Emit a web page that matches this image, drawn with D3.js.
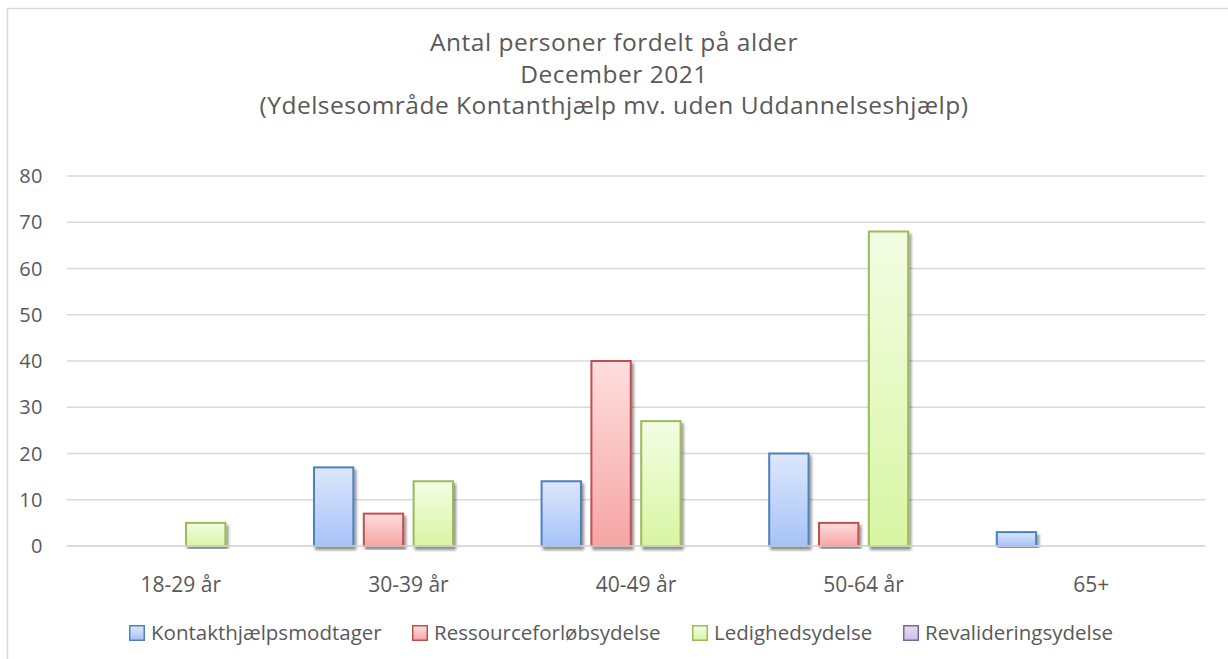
<!DOCTYPE html>
<html><head><meta charset="utf-8">
<script src="https://cdn.jsdelivr.net/npm/d3@7"></script>
<style>body{margin:0;background:#fff;} svg{display:block;font-family:"Open Sans",sans-serif;}</style>
</head><body>
<svg id="c" width="1228" height="659"></svg>
<script>
const titleLines = ["Antal personer fordelt på alder", "December 2021", "(Ydelsesområde Kontanthjælp mv. uden Uddannelseshjælp)"];
const categories = ["18-29 år", "30-39 år", "40-49 år", "50-64 år", "65+"];
const seriesNames = ["Kontakthjælpsmodtager", "Ressourceforløbsydelse", "Ledighedsydelse", "Revalideringsydelse"];
const kontakt = [0, 17, 14, 20, 3];
const ressource = [0, 7, 40, 5, 0];
const ledighed = [5, 14, 27, 68, 0];
const revalidering = [0, 0, 0, 0, 0];
const yTicks = [0, 10, 20, 30, 40, 50, 60, 70, 80];
const seriesValues = [kontakt, ressource, ledighed, revalidering];
const strokes = ["#4f81bd", "#c0504d", "#9bbb59", "#8064a2"];
const topCols = ["#dde7fc", "#ffdede", "#f4fde4", "#e6def2"];
const botCols = ["#a6c3f7", "#f6a5a5", "#d8f5a3", "#cdbfe6"];

const svg = d3.select("#c");
const defs = svg.append("defs");
seriesNames.forEach((s, i) => {
  const g = defs.append("linearGradient").attr("id", "g" + i).attr("x1", 0).attr("y1", 0).attr("x2", 0).attr("y2", 1);
  g.append("stop").attr("offset", "0%").attr("stop-color", topCols[i]);
  g.append("stop").attr("offset", "100%").attr("stop-color", botCols[i]);
});
const f = defs.append("filter").attr("id", "shadow").attr("x", "-20%").attr("y", "-5%").attr("width", "150%").attr("height", "115%");
f.append("feGaussianBlur").attr("in", "SourceAlpha").attr("stdDeviation", 1.6).attr("result", "b");
f.append("feOffset").attr("in", "b").attr("dx", 2).attr("dy", 3).attr("result", "o");
f.append("feComponentTransfer").attr("in", "o").attr("result", "t")
  .append("feFuncA").attr("type", "linear").attr("slope", 0.45);
const m = f.append("feMerge");
m.append("feMergeNode").attr("in", "t");
m.append("feMergeNode").attr("in", "SourceGraphic");

// chart border
svg.append("rect").attr("x", 7.5).attr("y", 8.5).attr("width", 1230).attr("height", 700)
  .attr("fill", "none").attr("stroke", "#d9d9d9").attr("stroke-width", 1.5);

// title
svg.append("g").selectAll("text").data(titleLines).join("text")
  .attr("x", 614).attr("y", (d, i) => 51 + i * 31.5)
  .attr("text-anchor", "middle").attr("font-size", 24.5).attr("letter-spacing", 0.5)
  .attr("fill", "#595959").text(d => d);

const pLeft = 67, pRight = 1205, pTop = 176, pBottom = 546;
const x0 = d3.scaleBand().domain(categories).range([pLeft, pRight]).paddingInner(0).paddingOuter(0);
const x1 = d3.scaleBand().domain(d3.range(seriesNames.length)).range([18.4, x0.bandwidth() - 18.4]).paddingInner(0.17).paddingOuter(0);
const y = d3.scaleLinear().domain([0, 80]).range([pBottom, pTop]);

// gridlines
svg.append("g").selectAll("line").data(yTicks).join("line")
  .attr("x1", pLeft).attr("x2", pRight).attr("y1", d => y(d)).attr("y2", d => y(d))
  .attr("stroke", "#d9d9d9").attr("stroke-width", 1.3);

// y labels
svg.append("g").selectAll("text").data(yTicks).join("text")
  .attr("x", 43).attr("y", d => y(d) + 7).attr("text-anchor", "end")
  .attr("font-size", 20).attr("letter-spacing", 0.5).attr("fill", "#595959").text(d => d);

// x labels
svg.append("g").selectAll("text").data(categories).join("text")
  .attr("x", d => x0(d) + x0.bandwidth() / 2).attr("y", 592).attr("text-anchor", "middle")
  .attr("font-size", 21).attr("fill", "#595959").text(d => d);

// bars
const data = [];
categories.forEach((c, ci) => seriesValues.forEach((vals, si) => {
  if (vals[ci] > 0) data.push({ c, si, v: vals[ci] });
}));
svg.append("g").selectAll("rect").data(data).join("rect")
  .attr("x", d => x0(d.c) + x1(d.si) + 1).attr("y", d => y(d.v))
  .attr("width", x1.bandwidth() - 2).attr("height", d => y(0) - y(d.v))
  .attr("fill", d => `url(#g${d.si})`).attr("stroke", d => strokes[d.si]).attr("stroke-width", 2)
  .attr("filter", "url(#shadow)");

// redraw baseline
svg.append("line").attr("x1", pLeft).attr("x2", pRight).attr("y1", y(0)).attr("y2", y(0))
  .attr("stroke", "#d9d9d9").attr("stroke-width", 1.3);

// legend
const legendX = [129, 412, 692, 903];
const lg = svg.append("g").selectAll("g").data(seriesNames).join("g")
  .attr("transform", (d, i) => `translate(${legendX[i]},625)`);
lg.append("rect").attr("x", 0.75).attr("y", 0.75).attr("width", 14.5).attr("height", 14.5)
  .attr("fill", (d, i) => `url(#g${i})`).attr("stroke", (d, i) => strokes[i]).attr("stroke-width", 1.5);
lg.append("text").attr("x", 22).attr("y", 15).attr("font-size", 20.5).attr("fill", "#595959").text(d => d);
</script>
</body></html>
